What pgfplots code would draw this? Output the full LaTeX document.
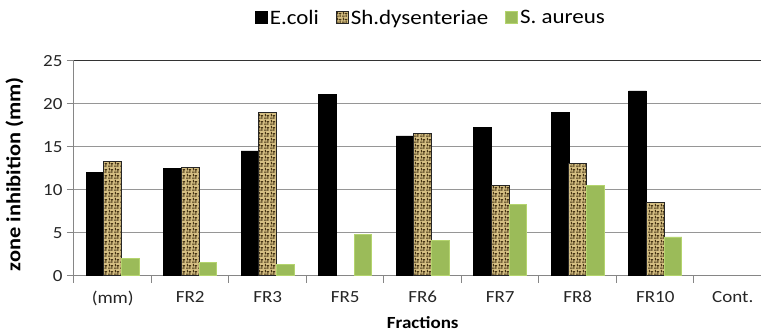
\documentclass[border=0pt]{standalone}
\usepackage{pgfplots}
\pgfplotsset{compat=1.18}
\usepackage{fontspec}
\setmainfont{Carlito}[FakeStretch=1.12]
\usetikzlibrary{patterns}
\definecolor{sau}{RGB}{155,187,89}
\definecolor{saued}{RGB}{180,212,110}
\definecolor{tanbg}{RGB}{212,190,130}
\definecolor{tandk}{RGB}{70,52,20}
\definecolor{gridc}{RGB}{150,150,150}
\definecolor{axc}{RGB}{134,134,134}
\pgfdeclarepatternformonly{weave}{\pgfqpoint{0pt}{0pt}}{\pgfqpoint{6pt}{6pt}}{\pgfqpoint{6pt}{6pt}}{%
  \pgfsetlinewidth{1.1pt}%
  \pgfpathmoveto{\pgfqpoint{0pt}{1pt}}\pgfpathlineto{\pgfqpoint{3pt}{1pt}}%
  \pgfpathmoveto{\pgfqpoint{4.5pt}{0pt}}\pgfpathlineto{\pgfqpoint{4.5pt}{3pt}}%
  \pgfpathmoveto{\pgfqpoint{3pt}{4pt}}\pgfpathlineto{\pgfqpoint{6pt}{4pt}}%
  \pgfpathmoveto{\pgfqpoint{1.5pt}{3pt}}\pgfpathlineto{\pgfqpoint{1.5pt}{6pt}}%
  \pgfusepath{stroke}}
\begin{document}
\begin{tikzpicture}
\begin{axis}[name=ax,
  scale only axis, width=697.5pt, height=215pt,
  ybar=0pt, bar width=17.7pt,
  xmin=-0.5, xmax=8.5, ymin=0, ymax=25,
  axis lines*=left,
  axis line style={axc, line width=1pt},
  xtick={0,...,8},
  xticklabels={(mm),FR2,FR3,FR5,FR6,FR7,FR8,FR10,Cont.},
  major x tick style={draw=none},
  minor xtick={-0.5,0.5,...,8.5},
  minor x tick style={axc, line width=1pt},
  minor tick length=7pt,
  ytick={0,5,...,20},
  extra y ticks={25},
  extra y tick style={grid style={black!80, line width=1.4pt}},
  y tick style={axc, line width=1pt},
  tick align=outside, major tick length=7pt,
  ymajorgrids, grid style={gridc, line width=1.3pt},
  tick label style={font=\fontsize{17}{19}\selectfont, text=black!85},
  /pgf/number format/assume math mode=true,
  xticklabel style={yshift=-5pt},
  yticklabel style={xshift=-1pt},
  xlabel={\bfseries Fractions},
  xlabel style={font=\fontsize{17}{19}\selectfont, yshift=-4pt},
  ylabel={\bfseries zone inhibition (mm)},
  ylabel style={font=\fontsize{20}{22}\selectfont, yshift=-1pt, xshift=-6pt},
  legend columns=3,
  legend style={draw=none, at={(0.512,1.2)}, anchor=center,
    font=\fontsize{20.5}{23}\selectfont,
    /tikz/every even column/.append style={column sep=15pt}},
  legend image code/.code={\fill[#1] (0pt,-5.5pt) rectangle (12pt,6.5pt);},
]
\addplot[fill=black, draw=black] coordinates {(0,12.0) (1,12.5) (2,14.5) (3,21.05) (4,16.25) (5,17.25) (6,19.0) (7,21.5)};
\addplot[fill=tanbg, draw=black!85, line width=0.8pt, postaction={pattern=weave, pattern color=tandk}] coordinates {(0,13.3) (1,12.6) (2,19.0) (4,16.55) (5,10.5) (6,13.0) (7,8.5)};
\addplot[fill=sau, draw=saued, line width=0.8pt] coordinates {(0,2.0) (1,1.55) (2,1.3) (3,4.75) (4,4.05) (5,8.25) (6,10.5) (7,4.5)};
\legend{E.coli,Sh.dysenteriae,S. aureus}
\end{axis}
\pgfresetboundingbox
\path[use as bounding box] ([shift={(-74pt,-59.3pt)}]ax.south west) rectangle ([shift={(687pt,60.7pt)}]ax.north west);
\end{tikzpicture}
\end{document}
